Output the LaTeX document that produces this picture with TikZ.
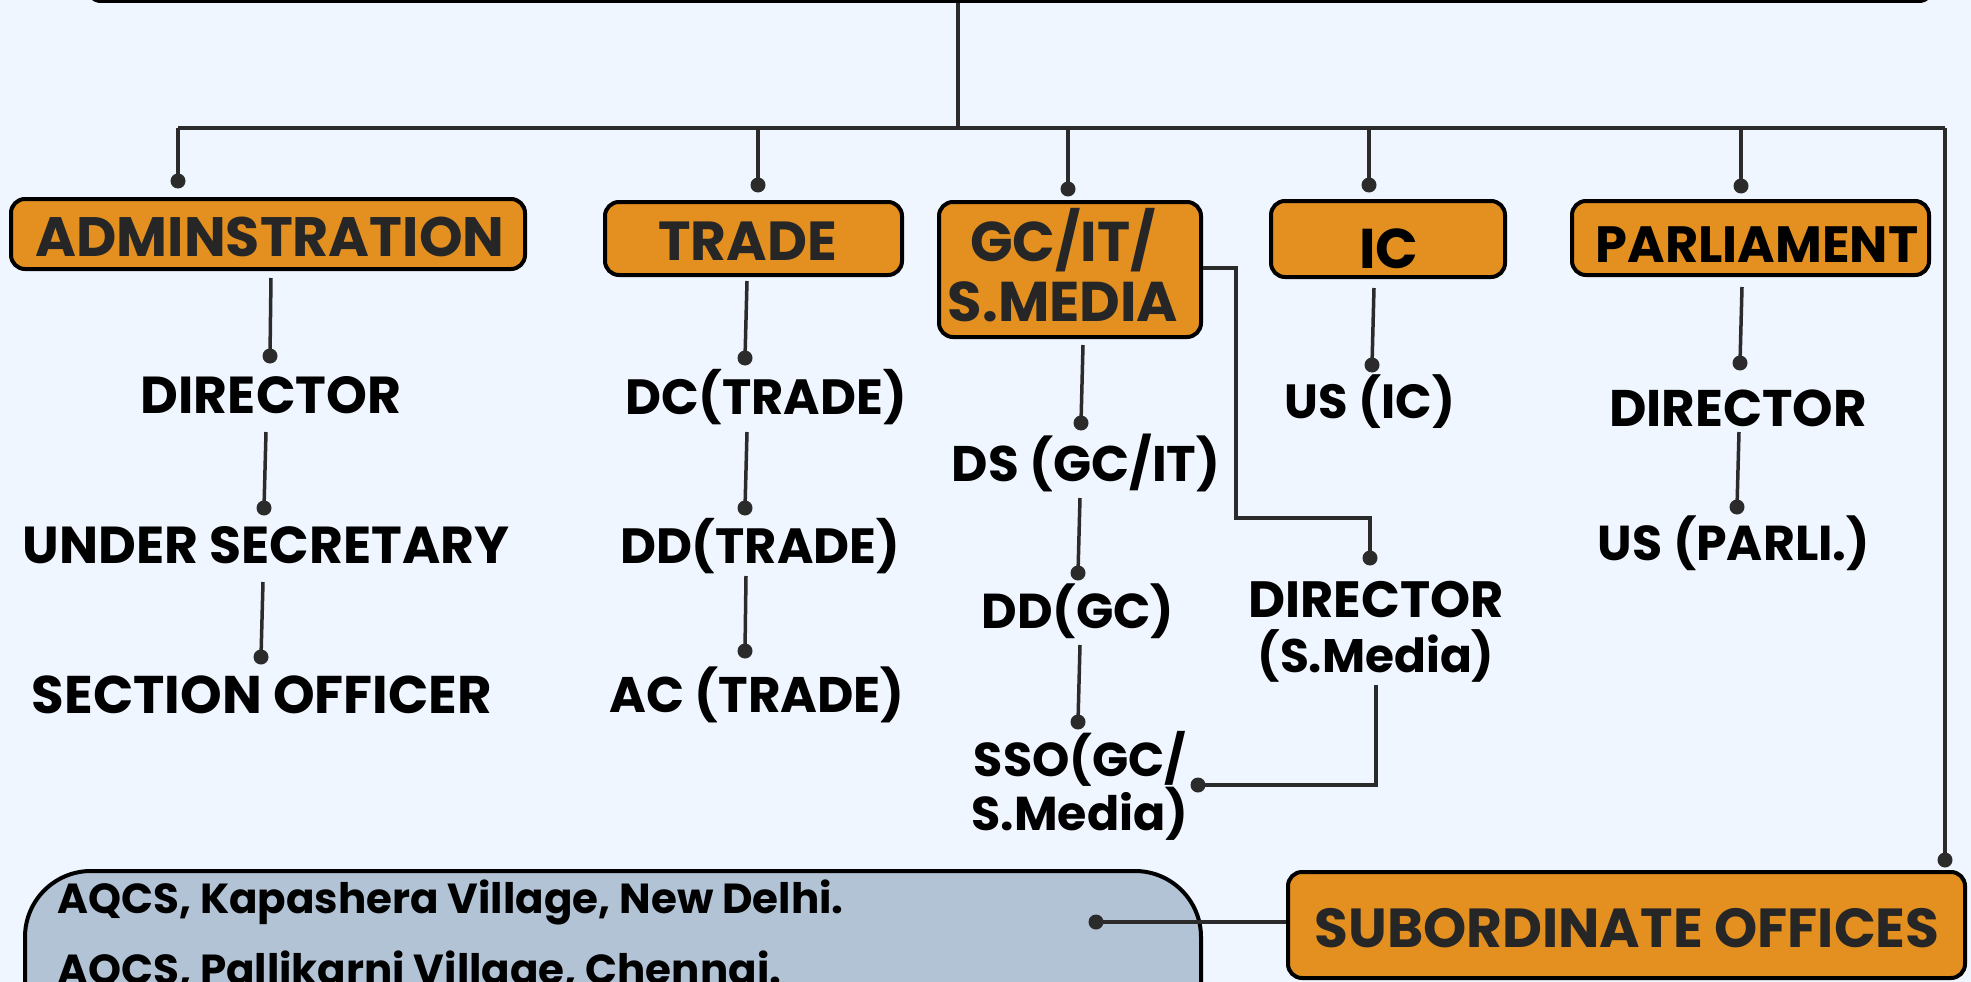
\documentclass[tikz,border=0pt]{standalone}
\usepackage{fontspec}
\setmainfont{Poppins}
\definecolor{bgC}{RGB}{239,246,255}
\definecolor{orangeC}{RGB}{227,144,32}
\definecolor{aqC}{RGB}{179,195,214}
\definecolor{titleC}{RGB}{38,38,38}
\definecolor{lineC}{RGB}{43,43,43}
\tikzset{
  box/.style={draw=black, line width=4pt, fill=orangeC, rounded corners=14pt, inner sep=0pt, rectangle},
  ttl/.style={anchor=base, text=titleC, inner sep=0pt, align=center},
  item/.style={anchor=base, text=black, inner sep=0pt, align=center},
  conn/.style={draw=lineC, line width=3.5pt},
  dotc/.style={fill=lineC},
}
\newcommand{\fsz}[2]{\fontsize{#1pt}{#2pt}\selectfont\bfseries}
\begin{document}
\begin{tikzpicture}[x=1pt,y=-1pt]
\fill[bgC] (0,0) rectangle (1971,982);
\useasboundingbox (0,0) rectangle (1971,982);
\clip (0,0) rectangle (1971,982);

% head box (only its lower edge is visible)
\node[box, minimum width=1846pt, minimum height=122pt] (head) at (1010,-60) {};

% department boxes
\node[box, minimum width=514pt, minimum height=70pt] (admin) at (268,234) {};
\node[box, minimum width=297pt, minimum height=73pt] (trade) at (753.5,238.5) {};
\node[box, minimum width=262pt, minimum height=135pt] (gc) at (1070,269.5) {};
\node[box, minimum width=234pt, minimum height=76pt] (ic) at (1388,239) {};
\node[box, minimum width=357pt, minimum height=74pt] (parl) at (1750.5,238) {};
\node[box, minimum width=677pt, minimum height=106pt] (subo) at (1626.5,925) {};
\node[draw=black, line width=4pt, fill=aqC, rounded corners=66pt, inner sep=0pt, minimum width=1176pt, minimum height=296pt] (aqcs) at (613,1019) {};

% box titles (multi-line nodes are anchored at the baseline of their last line)
\node[ttl, font=\fsz{55.5}{62}] (admin-t) at (270,256) {ADMINSTRATION};
\node[ttl, font=\fsz{55}{60}] (trade-t) at (747.5,260) {TRADE};
\node[ttl, font=\fsz{56}{60}] (gc-t) at (1063,321) {GC/IT/\\S.MEDIA};
\node[ttl, font=\fsz{56}{60}, text=black] (ic-t) at (1389,268) {IC};
\node[ttl, font=\fsz{51}{56}, text=black] (parl-t) at (1757,262) {PARLIAMENT};
\node[ttl, font=\fsz{55}{62}] (subo-t) at (1627,947) {SUBORDINATE OFFICES};

% items
\node[item, font=\fsz{52}{56}] (adir) at (271,413) {DIRECTOR};
\node[item, font=\fsz{52}{56}] (aus) at (266,563) {UNDER SECRETARY};
\node[item, font=\fsz{53}{57}] (aso) at (262,713) {SECTION OFFICER};
\node[item, font=\fsz{49.5}{56}] (tdc) at (766,414) {DC(TRADE)};
\node[item, font=\fsz{49.5}{56}] (tdd) at (760,563) {DD(TRADE)};
\node[item, font=\fsz{50}{54}] (tac) at (757,712) {AC (TRADE)};
\node[item, font=\fsz{50}{54}] (gds) at (1086,481) {DS (GC/IT)};
\node[item, font=\fsz{49}{54}] (gdd) at (1078,628) {DD(GC)};
\node[item, font=\fsz{47.5}{54}] (gsso) at (1080,830) {SSO(GC/\\S.Media)};
\node[item, font=\fsz{51}{55}] (gdir) at (1376,672) {DIRECTOR\\\fontsize{47}{55}\selectfont(S.Media)};
\node[item, font=\fsz{48}{52}] (ius) at (1370,418) {US (IC)};
\node[item, font=\fsz{51.5}{54}] (pdir) at (1738,426) {DIRECTOR};
\node[item, font=\fsz{49}{52}] (pus) at (1734,560) {US (PARLI.)};
\node[item, anchor=base west, font=\fsz{42}{71}, align=left] (aq) at (57,984) {AQCS, Kapashera Village, New Delhi.\\AQCS, Pallikarni Village, Chennai.};

% coordinates of connector ends
\coordinate (hs) at (958,3);
\coordinate (j) at (958,128);
\coordinate (bl) at (178,128);
\coordinate (br) at (1945,128);
\coordinate (j1) at (758,128);
\coordinate (j2) at (1068,128);
\coordinate (j3) at (1369,128);
\coordinate (j4) at (1741,128);
\coordinate (d0) at (178,181);
\coordinate (d1) at (758,185);
\coordinate (d2) at (1068,189);
\coordinate (d3) at (1369,185);
\coordinate (d4) at (1741,186);
\coordinate (d5) at (1945,860);
% admin column
\coordinate (a1s) at (271,278); \coordinate (a1d) at (270,356);
\coordinate (a2s) at (266,432); \coordinate (a2d) at (264,508);
\coordinate (a3s) at (263,582); \coordinate (a3d) at (261,657);
% trade column
\coordinate (t1s) at (747,281); \coordinate (t1d) at (745,358);
\coordinate (t2s) at (747,432); \coordinate (t2d) at (745,508);
\coordinate (t3s) at (746,576); \coordinate (t3d) at (745,651);
% gc column
\coordinate (g1s) at (1083,345); \coordinate (g1d) at (1081,423);
\coordinate (g2s) at (1080,498); \coordinate (g2d) at (1078,573);
\coordinate (g3s) at (1080,645); \coordinate (g3d) at (1078,722);
\coordinate (m1) at (1236,268); \coordinate (m2) at (1236,518); \coordinate (m3) at (1370,518);
\coordinate (md) at (1370,558);
\coordinate (s1) at (1376,685); \coordinate (s2) at (1376,785); \coordinate (sd) at (1198,785);
% ic, parl
\coordinate (i1s) at (1374,288); \coordinate (i1d) at (1372,365);
\coordinate (p1s) at (1742,287); \coordinate (p1d) at (1740,363);
\coordinate (p2s) at (1739,432); \coordinate (p2d) at (1737,507);
\coordinate (qd) at (1096,922);

% connectors
\draw[conn] (head.south -| hs) -- (j);
\draw[conn, line width=4pt] (bl) -- (br);
\draw[conn] (bl) -- (d0);
\draw[conn] (j1) -- (d1);
\draw[conn] (j2) -- (d2);
\draw[conn] (j3) -- (d3);
\draw[conn] (j4) -- (d4);
\draw[conn] (br) -- (d5);
\draw[conn] (a1s) -- (a1d);
\draw[conn] (a2s) -- (a2d);
\draw[conn] (a3s) -- (a3d);
\draw[conn] (t1s) -- (t1d);
\draw[conn] (t2s) -- (t2d);
\draw[conn] (t3s) -- (t3d);
\draw[conn] (g1s) -- (g1d);
\draw[conn] (g2s) -- (g2d);
\draw[conn] (g3s) -- (g3d);
\draw[conn] (gc.east |- m1) -- (m1) -- (m2) -- (m3) -- (md);
\draw[conn] (s1) -- (s2) -- (sd);
\draw[conn] (i1s) -- (i1d);
\draw[conn] (p1s) -- (p1d);
\draw[conn] (p2s) -- (p2d);
\draw[conn] (qd) -- (subo.west |- qd);

% dots
\foreach \d in {d0,d1,d2,d3,d4,d5,a1d,a2d,a3d,t1d,t2d,t3d,g1d,g2d,g3d,md,sd,i1d,p1d,p2d,qd}
  \fill[dotc] (\d) circle[radius=7.5pt];
\end{tikzpicture}
\end{document}
